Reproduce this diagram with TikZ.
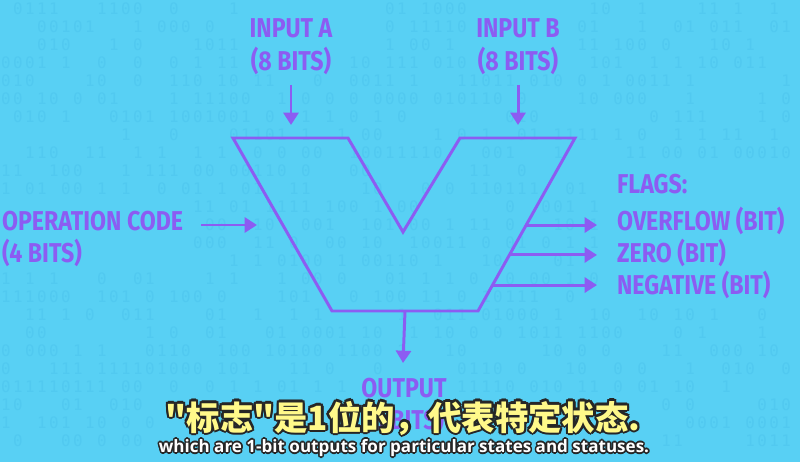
\documentclass[tikz,border=0pt]{standalone}
\usepackage{fontspec}
\usetikzlibrary{arrows.meta,positioning,calc}
\newfontfamily\alufont{Fira Sans}[FakeStretch=0.85]
\newfontfamily\cjkfont{Noto Sans CJK SC}
\newfontfamily\capfont{Open Sans}
\newfontfamily\digitfont{DejaVu Sans Mono}
\definecolor{ScreenCyan}{HTML}{58D0F4}
\definecolor{DigitCyan}{HTML}{51C9F0}
\definecolor{AluPurple}{HTML}{8C5CF2}
\definecolor{CaptionYellow}{HTML}{FFF98A}
\definecolor{CaptionEdge}{HTML}{262626}
\newcommand\zhtext{"标志"是1位的，代表特定状态.}
\newcommand\entext{which are 1-bit outputs for particular states and statuses.}

\begin{document}
\begin{tikzpicture}[x=0.02cm,y=-0.02cm,
  lbl/.style={font=\alufont\bfseries\fontsize{15.5}{17}\selectfont,text=AluPurple,inner sep=1pt,text height=11pt,text depth=3pt},
  alu/.style={draw=AluPurple,line width=1.7pt,line join=miter},
  arrow/.style={-{Triangle[length=7pt,width=8.5pt]},draw=AluPurple,line width=1.7pt},
  digit/.style={font=\digitfont\fontsize{9}{9}\selectfont,text=DigitCyan,inner sep=0pt},
  zhcap/.style={font=\cjkfont\bfseries\fontsize{19}{21}\selectfont,text=CaptionYellow,inner sep=0pt},
  encap/.style={font=\capfont\bfseries\fontsize{9.7}{12}\selectfont,text=white,inner sep=0pt}
]
\useasboundingbox (0,0) rectangle (800,462);
\fill[ScreenCyan] (0,0) rectangle (800,462);

% faint binary texture, kept clear of the labels
\pgfmathsetseed{42}
\foreach \row in {0,...,24}{
  \foreach \col in {0,...,65}{
    \pgfmathsetmacro\px{\col*12+6}
    \pgfmathsetmacro\py{\row*18+9}
    \pgfmathrandominteger{\d}{0}{3}
    \pgfmathparse{(\px>238 && \px<345 && \py<80) || (\px>465 && \px<572 && \py<80)
      || (\px<192 && \py>205 && \py<268) || (\px>605 && \py>162 && \py<300)
      || (\px>352 && \px<456 && \py>374) || (\px>150 && \px<660 && \py>398) ? 1 : 0}
    \ifnum\pgfmathresult=0 \ifnum\d<2 \node[digit] at (\px,\py) {\d}; \fi\fi
  }
}

% ALU outline
\coordinate (tl) at (233,138);
\coordinate (il) at (348,138);
\coordinate (vb) at (403,232);
\coordinate (ir) at (460,138);
\coordinate (tr) at (575,138);
\coordinate (br) at (478,311);
\coordinate (bl) at (332,311);
\draw[alu] (tl) -- (il) -- (vb) -- (ir) -- (tr) -- (br) -- (bl) -- cycle;

% inputs
\node[lbl] (inA) at (291,30) {INPUT A};
\node[lbl,below=2.7pt of inA] (inAbits) {(8 BITS)};
\node[lbl] (inB) at (518,30) {INPUT B};
\node[lbl,below=2.7pt of inB] (inBbits) {(8 BITS)};
\coordinate (inAtip) at (291,125);
\coordinate (inBtip) at (518,125);
\draw[arrow,shorten <=4pt] (inAbits.south) -- (inAtip);
\draw[arrow,shorten <=4pt] (inBbits.south) -- (inBtip);

% operation code
\node[lbl,anchor=west] (opc) at (0,223) {OPERATION CODE};
\node[lbl,below=2pt of opc.south west,anchor=north west] (opcbits) {(4 BITS)};
\coordinate (opctip) at (257,225);
\draw[arrow,shorten <=9pt] (opc.east |- opctip) -- (opctip);

% flags
\node[lbl,anchor=west] (ovf) at (615,223) {OVERFLOW (BIT)};
\node[lbl,above=4.4pt of ovf.north west,anchor=south west] (flags) {FLAGS:};
\node[lbl,below=2pt of ovf.south west,anchor=north west] (zero) {ZERO (BIT)};
\node[lbl,below=2pt of zero.south west,anchor=north west] (neg) {NEGATIVE (BIT)};
\coordinate (flagtip) at (597,0);
\coordinate (f1) at ($(tr)!0.503!(br)$);
\coordinate (f2) at ($(tr)!0.676!(br)$);
\coordinate (f3) at ($(tr)!0.850!(br)$);
\draw[arrow] (f1) -- (f1 -| flagtip);
\draw[arrow] (f2) -- (f2 -| flagtip);
\draw[arrow] (f3) -- (f3 -| flagtip);

% output
\coordinate (outtop) at ($(bl)!0.5!(br)$);
\coordinate (outtip) at (403,363);
\draw[arrow] (outtop) -- (outtip);
\node[lbl] (outlbl) at (404,390) {OUTPUT};
\node[lbl,below=2pt of outlbl] (outbits) {(8 BITS)};

% subtitles, dark rim drawn as offset copies
\foreach \a in {0,30,...,330}{
  \node[zhcap,text=CaptionEdge] at ($(403,418)+(\a:1.3pt)$) {\zhtext};
  \node[encap,text=CaptionEdge] at ($(404,448)+(\a:0.9pt)$) {\entext};
}
\node[zhcap] (zhline) at (403,418) {\zhtext};
\node[encap] (enline) at (404,448) {\entext};
\end{tikzpicture}
\end{document}
